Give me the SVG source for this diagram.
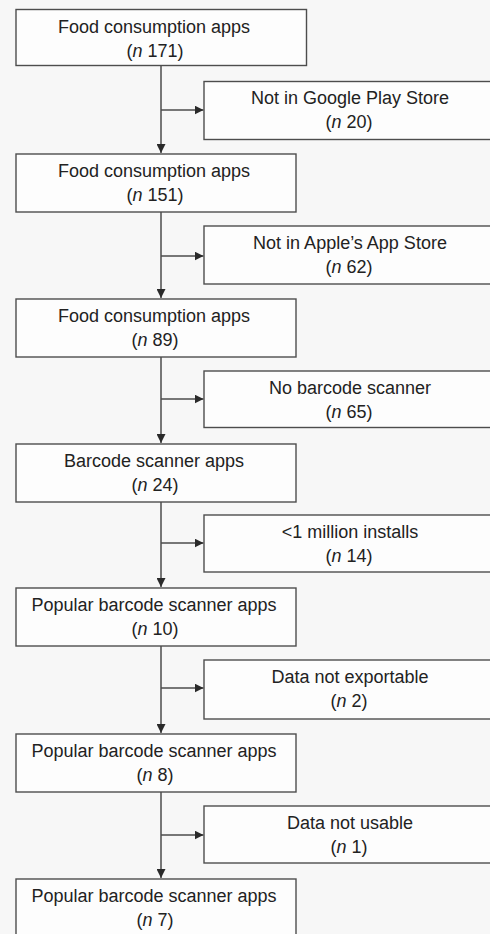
<svg xmlns="http://www.w3.org/2000/svg" width="490" height="934" viewBox="0 0 490 934">
  <style>
    .box { fill: #fdfdfd; stroke: #4d4d4d; stroke-width: 1.4; }
    .lbl { font-family: "Liberation Sans", Arial, sans-serif; font-size: 18px; fill: #222; text-anchor: middle; }
    .it { font-style: italic; }
    .link { fill: none; stroke: #4d4d4d; stroke-width: 1.5; }
  </style>
  <defs>
    <marker id="arrow" viewBox="0 0 10 10" refX="10" refY="5" markerWidth="9" markerHeight="9" markerUnits="userSpaceOnUse" orient="auto">
      <path d="M0,0 L10,5 L0,10 Z" fill="#2a2a2a"/>
    </marker>
  </defs>

  <rect x="0" y="0" width="490" height="934" fill="#f7f7f7"/>

  <g id="connectors">
    <!-- main vertical flow -->
    <path class="link" d="M161,66 V153" marker-end="url(#arrow)"/>
    <path class="link" d="M161,212 V298" marker-end="url(#arrow)"/>
    <path class="link" d="M161,357 V443" marker-end="url(#arrow)"/>
    <path class="link" d="M161,502 V587" marker-end="url(#arrow)"/>
    <path class="link" d="M161,646 V733" marker-end="url(#arrow)"/>
    <path class="link" d="M161,792 V878" marker-end="url(#arrow)"/>
    <!-- exclusion branches -->
    <path class="link" d="M161,110 H203.5" marker-end="url(#arrow)"/>
    <path class="link" d="M161,256 H203.5" marker-end="url(#arrow)"/>
    <path class="link" d="M161,399 H203.5" marker-end="url(#arrow)"/>
    <path class="link" d="M161,543 H203.5" marker-end="url(#arrow)"/>
    <path class="link" d="M161,688 H203.5" marker-end="url(#arrow)"/>
    <path class="link" d="M161,835 H203.5" marker-end="url(#arrow)"/>
  </g>

  <g id="n171">
    <rect class="box" x="16" y="9.5" width="290.5" height="56"/>
    <text class="lbl" x="154" y="33">Food consumption apps</text>
    <text class="lbl" x="155" y="57">(<tspan class="it">n</tspan> 171)</text>
  </g>
  <g id="ex20">
    <rect class="box" x="204" y="81.5" width="300" height="58"/>
    <text class="lbl" x="350" y="104">Not in Google Play Store</text>
    <text class="lbl" x="349" y="128">(<tspan class="it">n</tspan> 20)</text>
  </g>

  <g id="n151">
    <rect class="box" x="16" y="154" width="280" height="58"/>
    <text class="lbl" x="154" y="177">Food consumption apps</text>
    <text class="lbl" x="155" y="201">(<tspan class="it">n</tspan> 151)</text>
  </g>
  <g id="ex62">
    <rect class="box" x="204" y="226" width="300" height="58"/>
    <text class="lbl" x="350" y="249">Not in Apple’s App Store</text>
    <text class="lbl" x="349" y="273">(<tspan class="it">n</tspan> 62)</text>
  </g>

  <g id="n89">
    <rect class="box" x="16" y="299" width="280" height="58"/>
    <text class="lbl" x="154" y="322">Food consumption apps</text>
    <text class="lbl" x="155" y="346">(<tspan class="it">n</tspan> 89)</text>
  </g>
  <g id="ex65">
    <rect class="box" x="204" y="371" width="300" height="56.5"/>
    <text class="lbl" x="350" y="394">No barcode scanner</text>
    <text class="lbl" x="349" y="418">(<tspan class="it">n</tspan> 65)</text>
  </g>

  <g id="n24">
    <rect class="box" x="16" y="444" width="280" height="58"/>
    <text class="lbl" x="154" y="467">Barcode scanner apps</text>
    <text class="lbl" x="155" y="491">(<tspan class="it">n</tspan> 24)</text>
  </g>
  <g id="ex14">
    <rect class="box" x="204" y="515" width="300" height="57"/>
    <text class="lbl" x="350" y="538">&lt;1 million installs</text>
    <text class="lbl" x="349" y="562">(<tspan class="it">n</tspan> 14)</text>
  </g>

  <g id="n10">
    <rect class="box" x="16" y="588" width="280" height="58"/>
    <text class="lbl" x="154" y="611">Popular barcode scanner apps</text>
    <text class="lbl" x="155" y="635">(<tspan class="it">n</tspan> 10)</text>
  </g>
  <g id="ex2">
    <rect class="box" x="204" y="660" width="300" height="59"/>
    <text class="lbl" x="350" y="683">Data not exportable</text>
    <text class="lbl" x="349" y="707">(<tspan class="it">n</tspan> 2)</text>
  </g>

  <g id="n8">
    <rect class="box" x="16" y="734" width="280" height="58"/>
    <text class="lbl" x="154" y="757">Popular barcode scanner apps</text>
    <text class="lbl" x="155" y="781">(<tspan class="it">n</tspan> 8)</text>
  </g>
  <g id="ex1">
    <rect class="box" x="204" y="806" width="300" height="57"/>
    <text class="lbl" x="350" y="829">Data not usable</text>
    <text class="lbl" x="349" y="853">(<tspan class="it">n</tspan> 1)</text>
  </g>

  <g id="n7">
    <rect class="box" x="16" y="879" width="280" height="70"/>
    <text class="lbl" x="154" y="902">Popular barcode scanner apps</text>
    <text class="lbl" x="155" y="926">(<tspan class="it">n</tspan> 7)</text>
  </g>
</svg>
